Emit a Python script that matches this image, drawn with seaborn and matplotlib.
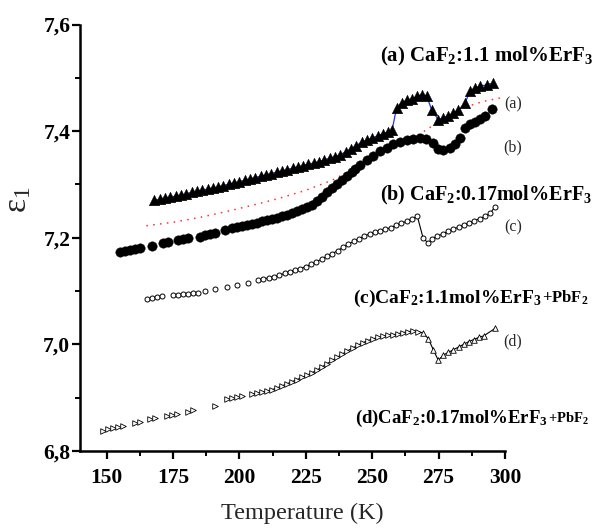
import numpy as np
import pandas as pd
import matplotlib
matplotlib.use("Agg")
import matplotlib.pyplot as plt
import seaborn as sns
from matplotlib.ticker import MultipleLocator, FixedLocator
from matplotlib.offsetbox import TextArea, HPacker, AnnotationBbox

# ---------------- data ----------------
# (a) CaF2:1.1 mol% ErF3  (filled triangles)
a_T = [168, 170, 172, 174, 176, 178, 180, 182, 184, 186, 188, 190, 192, 194, 196, 198,
       200, 202, 204, 206, 208, 210, 212, 214, 216, 218, 220, 222, 224, 226, 228, 230,
       232, 234, 236, 238, 240, 242, 244, 246, 248, 250, 252, 254, 256, 257.5,
       259.2, 261.1, 263.0, 264.9, 266.8, 268.6, 270.5, 272.4, 274.9, 276.8, 278.7,
       280.6, 282.4, 285.0, 286.8, 288.7, 290.6, 293.1, 295.6]
a_eps = [7.270, 7.272, 7.274, 7.276, 7.278, 7.280, 7.282, 7.285, 7.287, 7.289, 7.291,
         7.293, 7.295, 7.298, 7.300, 7.303, 7.305, 7.308, 7.310, 7.313, 7.315, 7.318,
         7.320, 7.323, 7.325, 7.328, 7.330, 7.333, 7.335, 7.338, 7.340, 7.343, 7.346,
         7.349, 7.352, 7.356, 7.361, 7.367, 7.373, 7.379, 7.383, 7.387, 7.391, 7.395,
         7.399, 7.402,
         7.444, 7.453, 7.458, 7.460, 7.465, 7.468, 7.466, 7.440, 7.421, 7.425, 7.429,
         7.434, 7.439, 7.453, 7.475, 7.481, 7.484, 7.487, 7.490]

# (b) CaF2:0.17 mol% ErF3  (filled circles)
b_T = [155.0, 156.9, 158.8, 160.7, 162.7, 167.0, 171.3, 173.0, 177.0, 178.9, 180.7,
       185.1, 187.0, 188.9, 190.8, 194.6, 197.1, 199.0, 200.8, 202.7, 204.6, 206.5,
       208.4, 210.3, 212.1, 214.0, 215.9, 217.8, 219.7, 221.6, 223.4, 225.3, 227.2,
       229.1, 231.0, 232.9, 234.7, 236.6, 238.5, 240.4, 242.3, 243.6, 245.4, 247.9,
       250.4, 252.9, 255.4, 258.0, 260.5, 263.0, 265.5, 268.0, 270.4, 273.0, 274.9,
       276.8, 279.3, 281.2, 283.1, 285.0, 286.8, 288.7, 290.6, 292.5, 295.0]
b_eps = [7.173, 7.175, 7.177, 7.179, 7.180, 7.185, 7.190, 7.192, 7.195, 7.198, 7.199,
         7.202, 7.205, 7.207, 7.209, 7.215, 7.218, 7.220, 7.222, 7.224, 7.226, 7.228,
         7.231, 7.233, 7.235, 7.237, 7.240, 7.243, 7.246, 7.250, 7.254, 7.258, 7.262,
         7.269, 7.276, 7.285, 7.293, 7.301, 7.309, 7.316, 7.323, 7.329, 7.337, 7.346,
         7.353, 7.362, 7.368, 7.375, 7.379, 7.383, 7.385, 7.387, 7.385, 7.378, 7.367,
         7.365, 7.368, 7.375, 7.387, 7.406, 7.414, 7.418, 7.423, 7.429, 7.442]

# (c) CaF2:1.1 mol% ErF3 + PbF2  (open circles)
c_T = [165.1, 167.0, 168.8, 170.7, 175.1, 177.0, 178.9, 180.7, 182.6, 184.5, 187.0,
       191.0, 195.2, 199.0, 203.3, 207.0, 209, 211, 213, 215, 217, 219, 221, 223, 225,
       227, 229, 231, 233, 235, 237, 239, 241, 243, 245, 247, 249, 251, 253, 255, 257,
       259, 261, 263, 265, 267, 269.2, 271.1, 272.6, 274.5, 276.5, 278.5, 280.5, 282.5,
       284.5, 286.5, 288.5, 290.5, 292.5, 294.5, 296.2]
c_eps = [7.085, 7.087, 7.089, 7.090, 7.092, 7.093, 7.094, 7.095, 7.096, 7.097, 7.100,
         7.103, 7.108, 7.112, 7.116, 7.120, 7.122, 7.125, 7.127, 7.130, 7.133, 7.136,
         7.139, 7.142, 7.146, 7.150, 7.155, 7.160, 7.165, 7.170, 7.176, 7.182, 7.188,
         7.193, 7.198, 7.203, 7.207, 7.210, 7.213, 7.216, 7.219, 7.223, 7.227, 7.231,
         7.235, 7.240, 7.199, 7.190, 7.198, 7.203, 7.207, 7.212, 7.216, 7.220, 7.224,
         7.228, 7.232, 7.236, 7.240, 7.246, 7.258]

# (d) CaF2:0.17 mol% ErF3 + PbF2  (open triangles)
d_T = [148.6, 150.5, 152.4, 154.3, 156.2, 160.7, 162.6, 166.5, 168.4, 172.6, 174.5,
       176.4, 180.7, 182.6, 190.8, 195.3, 197.2, 199.1, 201.0, 204.6, 206.5, 208.4,
       210.3, 212.2, 214.1, 216.0, 217.9, 219.8, 221.7, 223.6, 225.5, 227.4, 229.3,
       231.2, 233.1, 235.0, 236.9, 238.8, 240.7, 242.6, 244.5, 246.4, 248.3, 250.2,
       252.1, 254.0, 255.9, 257.8, 259.7, 261.6, 263.5, 265.4, 267.3, 269.2, 271.1,
       273.0, 274.9, 276.8, 278.7, 280.6, 282.5, 284.4, 286.3, 288.2, 290.1, 292.0,
       296.3]
d_eps = [6.838, 6.841, 6.843, 6.845, 6.847, 6.853, 6.855, 6.860, 6.862, 6.866, 6.868,
         6.870, 6.874, 6.876, 6.884, 6.897, 6.899, 6.901, 6.903, 6.906, 6.908, 6.910,
         6.912, 6.915, 6.918, 6.922, 6.926, 6.930, 6.934, 6.938, 6.942, 6.947, 6.952,
         6.958, 6.964, 6.970, 6.976, 6.982, 6.988, 6.993, 6.998, 7.003, 7.007, 7.010,
         7.013, 7.015, 7.017, 7.018, 7.020, 7.022, 7.024, 7.025, 7.024, 7.021, 7.011,
         6.990, 6.970, 6.980, 6.985, 6.990, 6.995, 7.000, 7.005, 7.009, 7.013, 7.016,
         7.030]

# red dotted fit curve
fit_T = [165, 175, 185, 195, 205, 215, 225, 235, 245, 255, 265, 270, 275, 280, 285, 292, 299]
fit_eps = [7.2225, 7.229, 7.238, 7.249, 7.261, 7.274, 7.289, 7.308, 7.335, 7.362, 7.387,
           7.401, 7.418, 7.434, 7.445, 7.456, 7.463]

x_ticks = [150, 175, 200, 225, 250, 275, 300]
y_ticks = [6.8, 7.0, 7.2, 7.4, 7.6]
y_tick_labels = ["6,8", "7,0", "7,2", "7,4", "7,6"]

curve_labels = ["(a)", "(b)", "(c)", "(d)"]
curve_label_eps = [7.450, 7.369, 7.219, 7.005]

# ---------------- style ----------------
sns.set_style("ticks")
plt.rcParams["font.family"] = ["Liberation Serif", "DejaVu Serif"]
plt.rcParams["mathtext.fontset"] = "custom"
plt.rcParams["mathtext.rm"] = "Liberation Serif"
plt.rcParams["mathtext.it"] = "Liberation Serif:italic"
plt.rcParams["mathtext.bf"] = "Liberation Serif:bold"

W, H = 602, 530
fig = plt.figure(figsize=(W / 100, H / 100), dpi=100)
ax = fig.add_axes([80 / W, 1 - 451 / H, 425 / W, (451 - 24.5) / H])

dfa = pd.DataFrame({"T": a_T, "eps": a_eps})
dfb = pd.DataFrame({"T": b_T, "eps": b_eps})
dfc = pd.DataFrame({"T": c_T, "eps": c_eps})
dfd = pd.DataFrame({"T": d_T, "eps": d_eps})
dff = pd.DataFrame({"T": fit_T, "eps": fit_eps})

# fit curve
sns.lineplot(data=dff, x="T", y="eps", ax=ax, color="#ff3030", lw=1.1,
             linestyle=(0, (1, 3.5)), estimator=None, zorder=1)

# (a)
sns.lineplot(data=dfa, x="T", y="eps", ax=ax, color="#2030ff", lw=0.9, estimator=None, zorder=2)
sns.scatterplot(data=dfa, x="T", y="eps", ax=ax, marker="^", s=58, color="black",
                edgecolor="black", linewidth=0.3, zorder=3)
# (b)
sns.scatterplot(data=dfb, x="T", y="eps", ax=ax, marker="o", s=46, color="black",
                edgecolor="black", linewidth=0.3, zorder=3)
# (c)
dfc_line = dfc[dfc["T"] >= 204]
sns.lineplot(data=dfc_line, x="T", y="eps", ax=ax, color="black", lw=0.8, estimator=None, zorder=2)
sns.scatterplot(data=dfc, x="T", y="eps", ax=ax, marker="o", s=13, facecolor="white",
                edgecolor="black", linewidth=0.7, zorder=3)
# (d)
dfd_line = dfd[dfd["T"] >= 204]
sns.lineplot(data=dfd_line, x="T", y="eps", ax=ax, color="black", lw=0.8, estimator=None, zorder=2)
dfd_r = dfd[dfd["T"] < 268]
dfd_u = dfd[dfd["T"] >= 268]
sns.scatterplot(data=dfd_r, x="T", y="eps", ax=ax, marker=">", s=16, facecolor="white",
                edgecolor="black", linewidth=0.6, zorder=3)
sns.scatterplot(data=dfd_u, x="T", y="eps", ax=ax, marker="^", s=16, facecolor="white",
                edgecolor="black", linewidth=0.6, zorder=3)

# ---------------- axes ----------------
ax.set_xlim(140, 300)
ax.set_ylim(6.8, 7.6)
ax.xaxis.set_major_locator(FixedLocator(x_ticks))
ax.xaxis.set_minor_locator(MultipleLocator(12.5))
ax.yaxis.set_major_locator(FixedLocator(y_ticks))
ax.yaxis.set_minor_locator(MultipleLocator(0.1))
ax.set_yticklabels(y_tick_labels)
ax.set_xticklabels([str(t) for t in x_ticks])
for lab in ax.get_xticklabels() + ax.get_yticklabels():
    lab.set_fontweight("bold")
    lab.set_fontsize(15.5)
ax.tick_params(axis="both", which="major", direction="out", length=6, width=1.6, colors="black")
ax.tick_params(axis="both", which="minor", direction="out", length=3.5, width=1.4, colors="black")
ax.tick_params(axis="x", which="major", pad=6)
ax.tick_params(axis="y", which="major", pad=1)
sns.despine(ax=ax)
for side in ["left", "bottom"]:
    ax.spines[side].set_linewidth(1.8)
    ax.spines[side].set_color("black")
ax.set_xlabel("")
ax.set_ylabel("")

# axis titles
fig.text(302 / W, 1 - 513 / H, "Temperature (K)", fontsize=17.5, ha="center", va="center")
fig.text(18 / W, 1 - 200 / H, r"$\mathregular{\varepsilon_1}$", fontsize=24, rotation=90,
         ha="center", va="center")

# curve tags near right end
for lab, e in zip(curve_labels, curve_label_eps):
    ax.text(303, e, lab, fontsize=11.5, ha="center", va="center", clip_on=False)

# big legend-like labels
def big_label(xpx, ypx_center, main, size, extra=None, extra_size=11):
    parts = [TextArea(main, textprops=dict(fontsize=size, fontweight="bold", color="black"))]
    if extra is not None:
        parts.append(TextArea(extra, textprops=dict(fontsize=extra_size, fontweight="bold",
                                                    color="black")))
    box = HPacker(children=parts, align="baseline", pad=0, sep=0)
    ab = AnnotationBbox(box, (xpx / W, 1 - ypx_center / H), xycoords="figure fraction",
                        box_alignment=(0, 0.5), frameon=False, pad=0,
                        annotation_clip=False)
    fig.add_artist(ab)

big_label(380, 56, r"(a) CaF$_\mathregular{2}$:1.1 mol%ErF$_\mathregular{3}$", 15)
big_label(380, 195, r"(b) CaF$_\mathregular{2}$:0.17mol%ErF$_\mathregular{3}$", 14.5)
big_label(353, 298, r"(c)CaF$_\mathregular{2}$:1.1mol%ErF$_\mathregular{3}$", 14,
          r"+PbF$_\mathregular{2}$", 12)
big_label(355, 418, r"(d)CaF$_\mathregular{2}$:0.17mol%ErF$_\mathregular{3}$", 13.5,
          r"+PbF$_\mathregular{2}$", 10.5)

fig.savefig("out.png", dpi=100)
